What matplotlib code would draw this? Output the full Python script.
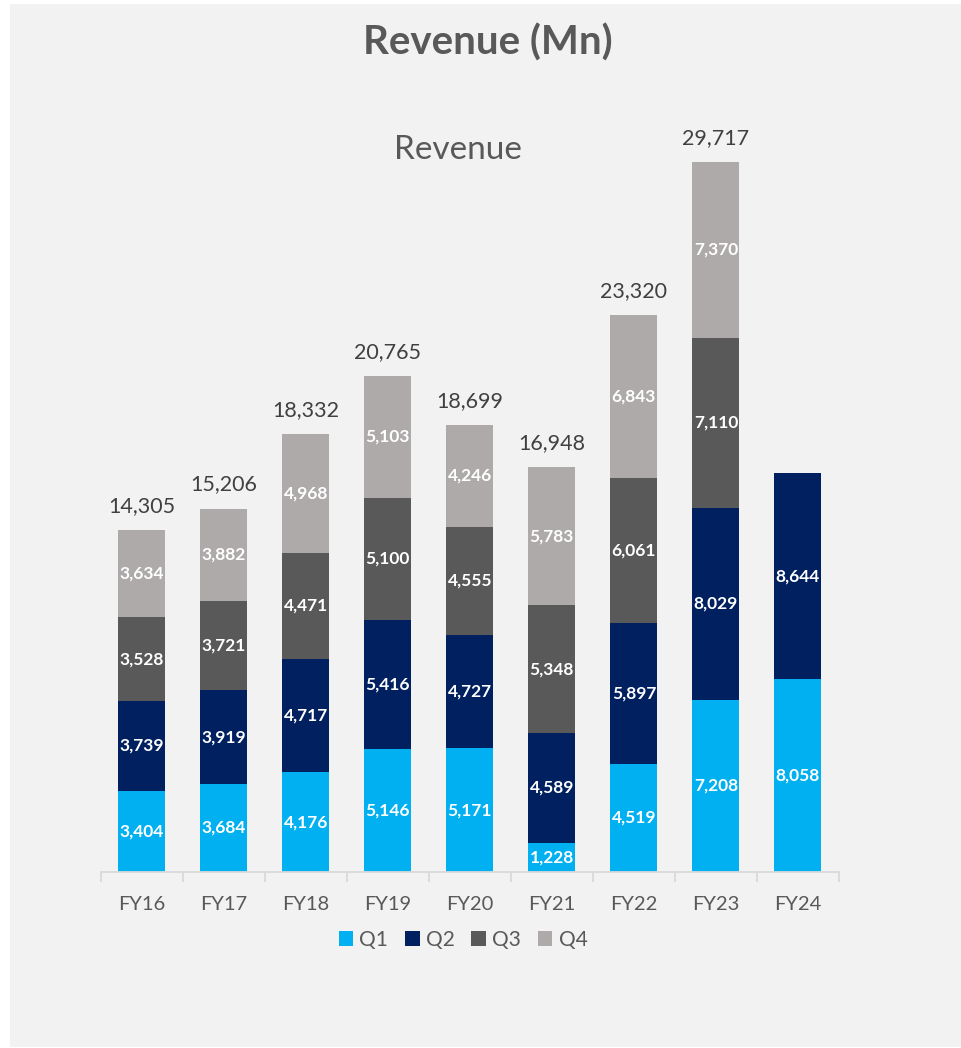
import matplotlib
matplotlib.use("Agg")
import matplotlib.pyplot as plt
from matplotlib.patches import Rectangle
import numpy as np

plt.rcParams['font.family'] = ['Lato', 'DejaVu Sans']

categories = ["FY16", "FY17", "FY18", "FY19", "FY20", "FY21", "FY22", "FY23", "FY24"]
q1 = [3404, 3684, 4176, 5146, 5171, 1228, 4519, 7208, 8058]
q2 = [3739, 3919, 4717, 5416, 4727, 4589, 5897, 8029, 8644]
q3 = [3528, 3721, 4471, 5100, 4555, 5348, 6061, 7110, None]
q4 = [3634, 3882, 4968, 5103, 4246, 5783, 6843, 7370, None]
totals = [14305, 15206, 18332, 20765, 18699, 16948, 23320, 29717, None]
series_names = ["Q1", "Q2", "Q3", "Q4"]
colors = ["#00B0F0", "#002060", "#595959", "#AEAAAA"]

W, H = 961, 1048
fig = plt.figure(figsize=(W / 100, H / 100), dpi=100, facecolor="white")
bg = Rectangle((10 / W, 1 - 1047 / H), (W - 10) / W, (1047 - 4) / H,
               transform=fig.transFigure, facecolor="#F2F2F2",
               edgecolor="none", zorder=-10)
fig.patches.append(bg)

base_px = 872
top_px = 100
left_px, right_px = 100.7, 839
ax = fig.add_axes([left_px / W, 1 - base_px / H, (right_px - left_px) / W, (base_px - top_px) / H])
ax.set_facecolor("none")
ax.set_zorder(1)

x = np.arange(len(categories))
bw = 0.573
bottom = np.zeros(len(categories))
for name, vals, c in zip(series_names, [q1, q2, q3, q4], colors):
    v = np.array([0 if a is None else a for a in vals], dtype=float)
    ax.bar(x, v, bw, bottom=bottom, color=c, label=name, zorder=2)
    for i, val in enumerate(vals):
        if val is None:
            continue
        ax.text(x[i], bottom[i] + val / 2, f"{val:,}", ha="center", va="center",
                color="white", fontsize=12.5, fontweight="bold", zorder=3)
    bottom += v

for i, t in enumerate(totals):
    if t is None:
        continue
    ax.annotate(f"{t:,}", (x[i], t), xytext=(0, 24), textcoords="offset pixels",
                ha="center", va="center", color="#404040", fontsize=15.5)

scale = (base_px - 161.7) / 29717
ax.set_xlim(-0.5, len(categories) - 0.5)
ax.set_ylim(0, (base_px - top_px) / scale)

for s in ["top", "right", "left"]:
    ax.spines[s].set_visible(False)
ax.spines["bottom"].set_color("#D9D9D9")
ax.spines["bottom"].set_linewidth(1.3)
ax.set_yticks([])
ax.set_xticks(x)
ax.set_xticklabels(categories, fontsize=14.5, color="#595959")
ax.tick_params(axis="x", length=0, pad=17)
ax.set_xticks(np.arange(-0.5, len(categories)), minor=True)
ax.tick_params(axis="x", which="minor", length=7, color="#D9D9D9", width=1.3)

fig.text(488 / W, 1 - 43 / H, "Revenue (Mn)", ha="center", va="center",
         fontsize=29, fontweight="bold", color="#595959")
fig.text(458 / W, 1 - 150 / H, "Revenue", ha="center", va="center",
         fontsize=24, color="#595959")

leg = fig.legend(loc="center", bbox_to_anchor=(463 / W, 1 - 940 / H), ncol=4,
                 frameon=False, fontsize=15, handlelength=0.7, handleheight=0.7,
                 handletextpad=0.3, columnspacing=0.8)
for t in leg.get_texts():
    t.set_color("#595959")

fig.savefig("out.png", dpi=100, facecolor="white")
